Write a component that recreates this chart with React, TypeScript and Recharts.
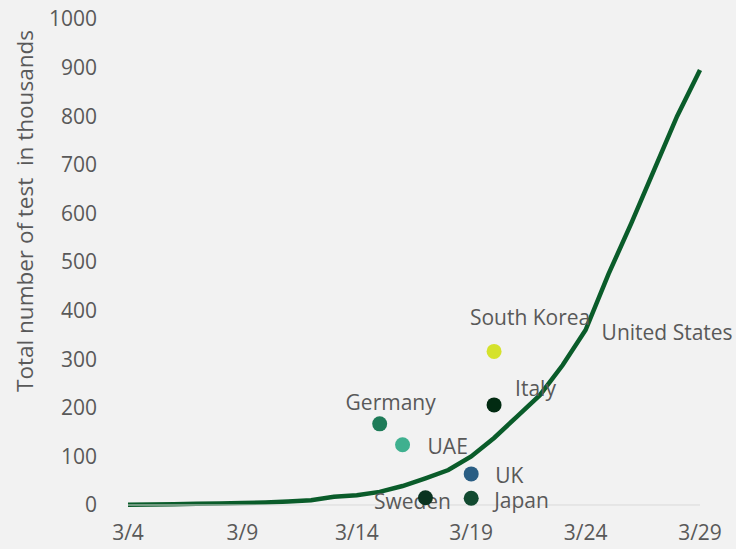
import React from "react";
import { ComposedChart, Line, XAxis, YAxis } from "recharts";

// x categories (daily) and tick values
const dates = [
  "3/4", "3/5", "3/6", "3/7", "3/8", "3/9", "3/10", "3/11", "3/12", "3/13",
  "3/14", "3/15", "3/16", "3/17", "3/18", "3/19", "3/20", "3/21", "3/22", "3/23",
  "3/24", "3/25", "3/26", "3/27", "3/28", "3/29",
];
const xTicks = ["3/4", "3/9", "3/14", "3/19", "3/24", "3/29"];
const yTicks = [0, 100, 200, 300, 400, 500, 600, 700, 800, 900, 1000];

// United States cumulative tests (thousands)
const usTests = [
  0.5, 1, 1.5, 2.5, 3, 4, 5, 7, 10, 17,
  20, 27, 39, 55, 72, 100, 138, 182, 226, 288,
  360, 475, 580, 690, 800, 895,
];
const usLabel = "United States";
const usLabelDate = "3/24";

// other countries, one point each
const countries = ["Germany", "UAE", "Sweden", "UK", "Japan", "Italy", "South Korea"];
const countryDates = ["3/15", "3/16", "3/17", "3/19", "3/19", "3/20", "3/20"];
const countryTests = [167, 124, 15, 64, 14, 206, 316];

// styling only
const countryColors: Record<string, string> = {
  Germany: "#1e7b58",
  UAE: "#3fb08f",
  Sweden: "#0a3320",
  UK: "#2a5e84",
  Japan: "#124a30",
  Italy: "#022b12",
  "South Korea": "#d5e22c",
};
// label offset from the dot centre + anchor
const labelPos: Record<string, { dx: number; dy: number; anchor: string }> = {
  Germany: { dx: 11, dy: -22, anchor: "middle" },
  UAE: { dx: 25, dy: 1, anchor: "start" },
  Sweden: { dx: -13, dy: 3, anchor: "middle" },
  UK: { dx: 24, dy: 1, anchor: "start" },
  Japan: { dx: 23, dy: 2, anchor: "start" },
  Italy: { dx: 21, dy: -17, anchor: "start" },
  "South Korea": { dx: 36, dy: -34, anchor: "middle" },
};

const FONT = "'Open Sans', sans-serif";
const TEXT = "#595959";

const data = dates.map((d, i) => {
  const row: any = { date: d, us: usTests[i] };
  countries.forEach((c, j) => {
    if (countryDates[j] === d) row[c] = countryTests[j];
  });
  return row;
});

const makeDot = (name: string) => (props: any) => {
  const { cx, cy, value, index } = props;
  if (value == null || cx == null || cy == null) return <g key={`${name}-${index}`} />;
  const p = labelPos[name];
  return (
    <g key={`${name}-${index}`}>
      <text
        x={cx + p.dx}
        y={cy + p.dy}
        textAnchor={p.anchor as any}
        dominantBaseline="central"
        fontFamily={FONT}
        fontSize={21}
        fill={TEXT}
      >
        {name}
      </text>
      <circle cx={cx} cy={cy} r={7.5} fill={countryColors[name]} />
    </g>
  );
};

const UsLabel = (props: any) => {
  const { x, y, index } = props;
  if (dates[index] !== usLabelDate) return null;
  return (
    <text
      x={x + 16}
      y={y + 2}
      dominantBaseline="central"
      fontFamily={FONT}
      fontSize={21}
      fill={TEXT}
    >
      {usLabel}
    </text>
  );
};

const YTitle = (props: any) => {
  const { viewBox } = props;
  const x = viewBox.x + 24;
  const y = viewBox.y + 192;
  return (
    <text
      x={x}
      y={y}
      transform={`rotate(-90, ${x}, ${y})`}
      textAnchor="middle"
      dominantBaseline="central"
      fontFamily={FONT}
      fontSize={22.5}
      fill={TEXT}
      style={{ whiteSpace: "pre" }}
    >
      Total number of test  in thousands
    </text>
  );
};

export default function App() {
  return (
    <div style={{ position: "absolute", left: 0, top: 0, width: 736, height: 549, background: "#f2f2f2" }}>
      <ComposedChart width={736} height={549} data={data} margin={{ top: 19, right: 36, bottom: 0, left: 0 }}>
        <XAxis
          dataKey="date"
          scale="point"
          ticks={xTicks}
          interval={0}
          tickSize={0}
          tickMargin={20}
          height={44}
          axisLine={{ stroke: "#d9d9d9", strokeWidth: 1 }}
          tick={{ fontFamily: FONT, fontSize: 21, fill: TEXT }}
        />
        <YAxis
          domain={[0, 1000]}
          ticks={yTicks}
          interval={0}
          width={128}
          tickSize={0}
          tickMargin={31}
          axisLine={false}
          tickLine={false}
          tick={{ fontFamily: FONT, fontSize: 21, fill: TEXT }}
          label={<YTitle />}
        />
        <Line
          dataKey="us"
          stroke="#0a5c2a"
          strokeWidth={4.5}
          dot={false}
          isAnimationActive={false}
          label={<UsLabel />}
        />
        {countries.map((c) => (
          <Line
            key={c}
            dataKey={c}
            stroke="none"
            dot={makeDot(c)}
            activeDot={false}
            isAnimationActive={false}
          />
        ))}
      </ComposedChart>
    </div>
  );
}
